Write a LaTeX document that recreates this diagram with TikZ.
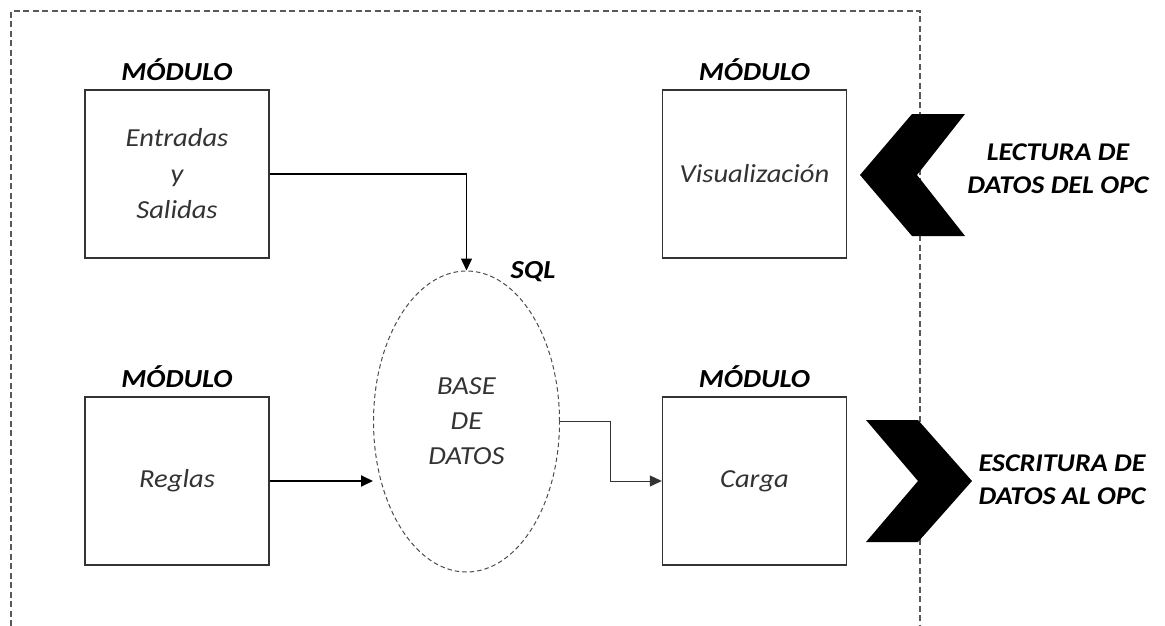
\documentclass[tikz,border=0pt]{standalone}
\usepackage{fontspec}
\setmainfont{Carlito}[FakeStretch=1.1]
\usetikzlibrary{arrows.meta,shapes.geometric,positioning}

\tikzset{
  modbox/.style={draw=black!80, line width=1.4pt, minimum width=184pt, minimum height=168pt,
    inner sep=0pt, align=center, font=\fontsize{26}{36}\selectfont\itshape, text=black!80},
  modtitle/.style={font=\fontsize{26}{28}\selectfont\bfseries\itshape, inner sep=0pt},
  sidetext/.style={font=\fontsize{25.5}{33}\selectfont\bfseries\itshape, align=center, inner sep=0pt},
  frame/.style={draw=black!65, line width=1.3pt, dash pattern=on 6pt off 3.5pt},
  dbshape/.style={ellipse, draw=black!70, line width=1pt, dash pattern=on 4.5pt off 3pt,
    minimum width=186pt, minimum height=301pt, inner sep=0pt, align=center,
    font=\fontsize{26}{35}\selectfont\itshape, text=black!80},
  arr/.style={-{Triangle[length=12pt,width=11pt]}, black, line width=1.5pt},
  thinarr/.style={-{Triangle[length=12pt,width=11pt]}, black!80, line width=1pt},
  chevron/.style={fill=black, draw=none}
}

\begin{document}
\begin{tikzpicture}[x=1pt, y=-1pt]
  \useasboundingbox (0,0) rectangle (1165,626);

  % outer dashed frame, open at the bottom
  \draw[frame] (11,626) -- (11,11) -- (920,11) -- (920,626);

  % modules
  \node[modbox] (es) at (177,174) {Entradas\\y\\Salidas};
  \node[modtitle, above=8pt of es.north] (t1) {MÓDULO};
  \node[modbox] (vis) at (754.5,174) {Visualización};
  \node[modtitle, above=8pt of vis.north] (t2) {MÓDULO};
  \node[modbox] (reg) at (177,481) {Reglas};
  \node[modtitle, above=8pt of reg.north] (t3) {MÓDULO};
  \node[modbox] (car) at (754.5,481) {Carga};
  \node[modtitle, above=8pt of car.north] (t4) {MÓDULO};

  % database
  \node[dbshape] (db) at (466.5,421.5) {BASE\\DE\\DATOS};
  \node[modtitle] (sql) at (533,272) {SQL};

  % connectors
  \draw[arr] (es.east) -| (db.north);
  \draw[arr, line width=2pt] (reg.east) -- (reg.east -| db.west);
  \coordinate (bend) at (610,421.5);
  \draw[thinarr] (db.east) -- (bend) |- (car.west);

  % OPC chevrons
  \draw[chevron] (912,114) -- (965,114) -- (917,175) -- (965,236) -- (912,236) -- (860,175) -- cycle;
  \draw[chevron] (866,420) -- (918,420) -- (972,481) -- (918,542) -- (866,542) -- (918,481) -- cycle;

  \node[sidetext] (lect) at (1058,169) {LECTURA DE\\DATOS DEL OPC};
  \node[sidetext] (escr) at (1062,480) {ESCRITURA DE\\DATOS AL OPC};
\end{tikzpicture}
\end{document}
